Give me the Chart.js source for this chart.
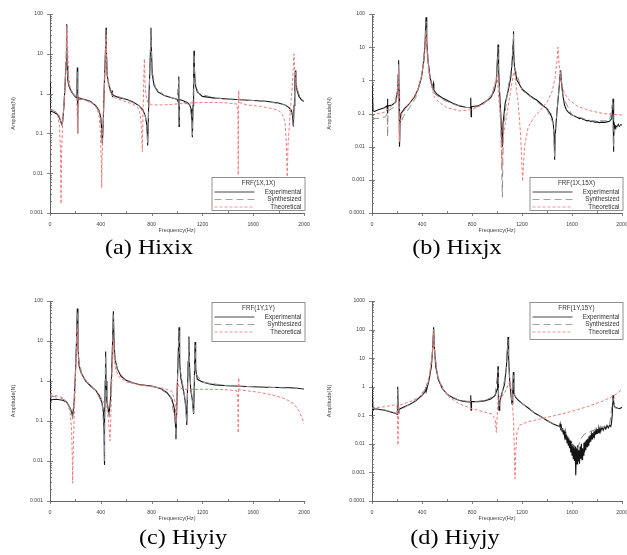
<!DOCTYPE html>
<html><head><meta charset="utf-8">
<script src="https://cdn.jsdelivr.net/npm/chart.js@4.4.0/dist/chart.umd.min.js"></script>
<style>
html,body{margin:0;padding:0;background:#fff;}
body{width:627px;height:555px;position:relative;overflow:hidden;}
canvas{position:absolute;}
.cap{position:absolute;font-family:"Liberation Serif","Times New Roman",serif;font-size:22px;color:#000;transform:translate(-50%,-50%) scaleX(1.1);white-space:nowrap;}
</style></head><body>
<canvas id="ca" width="314" height="240" style="left:0;top:0"></canvas>
<canvas id="cb" width="313" height="240" style="left:314px;top:0"></canvas>
<canvas id="cc" width="314" height="245" style="left:0;top:280px"></canvas>
<canvas id="cd" width="313" height="245" style="left:314px;top:280px"></canvas>
<div class="cap" style="left:149px;top:247px">(a) Hixix</div>
<div class="cap" style="left:457px;top:247px">(b) Hixjx</div>
<div class="cap" style="left:183px;top:537px">(c) Hiyiy</div>
<div class="cap" style="left:455px;top:537px">(d) Hiyjy</div>
<script>
// ---------- tick labels ----------
const xTickLabels = [0, 400, 800, 1200, 1600, 2000];
const yLabelsA = ['0.001','0.01','0.1','1','10','100'];
const yLabelsB = ['0.0001','0.001','0.01','0.1','1','10','100'];
const yLabelsC = ['0.001','0.01','0.1','1','10','100'];
const yLabelsD = ['0.0001','0.001','0.01','0.1','1','10','100','1000'];
const legendTitles = ['FRF(1X,1X)','FRF(1X,15X)','FRF(1Y,1Y)','FRF(1Y,15Y)'];
const seriesNames = ['Experimental','Synthesized','Theoretical'];

// ---------- (a) Hixix : [frequency Hz, amplitude] ----------
const expA = [[0,2.0],[1,0.3],[3,1.5],[5,0.35],[10,0.36],[30,0.34],[60,0.3],[80,0.22],[92,0.17],[100,0.2],[110,0.5],[120,2],[126,6],[129,20],[131,55],[133,20],[136,5],[140,2.2],[150,1.5],[170,1.1],[190,0.9],[205,0.8],[212,1.2],[215,4.5],[217,0.1],[220,0.5],[225,0.8],[240,0.75],[280,0.7],[320,0.63],[360,0.5],[385,0.38],[400,0.25],[408,0.12],[412,0.055],[418,0.15],[430,3],[437,12],[441,45],[444,12],[450,3],[460,1.8],[480,1.1],[488,0.95],[490,1.2],[492,0.85],[500,0.9],[550,0.78],[600,0.72],[650,0.62],[700,0.5],[730,0.4],[750,0.28],[760,0.18],[766,0.1],[769,0.05],[775,0.3],[785,3],[792,15],[795,45],[798,15],[805,3],[820,1.6],[850,1.1],[900,0.9],[950,0.8],[1000,0.72],[1012,0.6],[1014,2.7],[1016,0.15],[1018,0.6],[1020,0.7],[1040,0.68],[1080,0.6],[1100,0.52],[1112,0.4],[1118,0.2],[1121,0.08],[1126,0.5],[1131,4],[1134,12],[1137,4],[1145,1.6],[1160,1.1],[1200,0.85],[1300,0.77],[1400,0.73],[1500,0.7],[1600,0.67],[1700,0.64],[1800,0.58],[1850,0.52],[1880,0.45],[1900,0.38],[1910,0.28],[1916,0.15],[1922,0.5],[1928,2],[1932,3.8],[1936,2],[1945,1.2],[1960,0.85],[1980,0.7],[2000,0.63]];
const synA = [[0,0.38],[40,0.36],[70,0.3],[85,0.2],[92,0.16],[105,0.3],[118,1.5],[126,6],[131,50],[136,5],[145,1.8],[180,1.0],[210,0.8],[215,3.5],[217,0.12],[222,0.7],[260,0.72],[340,0.58],[390,0.35],[405,0.15],[412,0.06],[420,0.2],[432,4],[441,40],[450,3],[470,1.4],[500,0.92],[600,0.72],[700,0.5],[750,0.28],[766,0.1],[769,0.055],[778,0.5],[790,10],[795,40],[802,4],[830,1.4],[900,0.9],[1000,0.72],[1014,2.2],[1016,0.17],[1020,0.68],[1100,0.52],[1118,0.2],[1121,0.09],[1128,1],[1134,10],[1142,2],[1170,1.0],[1300,0.77],[1500,0.7],[1700,0.64],[1850,0.52],[1905,0.32],[1916,0.16],[1925,0.8],[1932,3.5],[1940,1.5],[1970,0.78],[2000,0.63]];
const theoA = [[0,0.42],[30,0.38],[60,0.3],[75,0.15],[83,0.03],[87,0.0017],[91,0.03],[100,0.2],[115,1],[125,5],[131,20],[135,55],[139,15],[145,3],[160,1.3],[190,0.95],[210,0.8],[214,0.4],[217,0.1],[220,0.4],[226,0.8],[260,0.72],[320,0.6],[360,0.48],[385,0.3],[398,0.1],[404,0.02],[407,0.0043],[410,0.02],[420,0.3],[432,3],[438,12],[441,30],[444,10],[452,2.5],[470,1.2],[500,0.8],[550,0.7],[600,0.62],[650,0.55],[690,0.45],[712,0.3],[722,0.1],[727,0.035],[732,0.3],[737,1.5],[743,7.5],[748,2],[755,0.9],[770,0.6],[800,0.52],[900,0.52],[1000,0.55],[1100,0.58],[1200,0.6],[1300,0.6],[1400,0.58],[1470,0.55],[1480,0.3],[1482,0.009],[1484,0.3],[1486,1.2],[1490,0.6],[1550,0.52],[1650,0.48],[1750,0.42],[1800,0.38],[1830,0.3],[1850,0.2],[1862,0.05],[1868,0.007],[1874,0.05],[1890,0.3],[1905,1.2],[1915,4],[1921,10],[1928,3],[1940,1.5],[1960,1.1]];

// ---------- (b) Hixjx ----------
const expB = [[0,0.7],[2,0.12],[5,0.5],[8,0.12],[20,0.115],[50,0.13],[100,0.15],[120,0.17],[124,0.28],[126,0.1],[128,0.17],[160,0.18],[190,0.22],[205,0.5],[210,1.5],[213,4],[216,0.5],[219,0.05],[221,0.01],[224,0.05],[232,0.1],[260,0.14],[300,0.2],[340,0.32],[370,0.55],[395,1.2],[415,4],[425,15],[432,80],[438,15],[448,4],[465,1.2],[485,0.6],[492,0.8],[495,0.5],[520,0.38],[560,0.3],[600,0.25],[650,0.2],[700,0.17],[750,0.155],[785,0.15],[790,0.3],[793,0.08],[796,0.16],[850,0.17],[900,0.22],[950,0.3],[980,0.5],[995,1],[1003,4],[1008,12],[1013,2],[1020,0.5],[1030,0.1],[1038,0.02],[1043,0.01],[1048,0.05],[1065,0.2],[1090,0.5],[1110,1.2],[1122,4],[1128,12],[1131,30],[1134,8],[1140,2.5],[1160,1],[1200,0.55],[1230,0.44],[1250,0.38],[1270,0.33],[1300,0.28],[1320,0.25],[1340,0.215],[1350,0.2],[1370,0.17],[1385,0.155],[1400,0.14],[1415,0.115],[1425,0.1],[1430,0.09],[1440,0.075],[1450,0.05],[1458,0.02],[1461,0.004],[1465,0.02],[1480,0.12],[1495,0.5],[1505,1.5],[1509,2],[1514,1],[1525,0.4],[1540,0.18],[1555,0.13],[1570,0.11],[1585,0.1],[1600,0.09],[1615,0.085],[1630,0.08],[1645,0.076],[1660,0.07],[1675,0.072],[1690,0.066],[1705,0.064],[1720,0.06],[1735,0.062],[1750,0.057],[1765,0.059],[1780,0.055],[1800,0.056],[1820,0.053],[1840,0.055],[1860,0.054],[1880,0.056],[1900,0.058],[1918,0.07],[1925,0.15],[1928,0.28],[1931,0.007],[1935,0.03],[1940,0.045],[1945,0.035],[1950,0.042],[1960,0.04],[1970,0.047],[1980,0.041],[1990,0.046],[2000,0.045]];
const synB = [[0,0.07],[60,0.072],[110,0.08],[122,0.1],[125,0.02],[128,0.12],[170,0.15],[200,0.3],[210,1.5],[213,3],[217,0.3],[221,0.012],[226,0.04],[250,0.08],[300,0.15],[350,0.3],[400,1.5],[425,12],[432,60],[440,10],[460,1.5],[500,0.4],[550,0.28],[650,0.19],[750,0.15],[850,0.16],[950,0.28],[995,1],[1008,10],[1015,1.5],[1030,0.05],[1043,0.0003],[1050,0.03],[1080,0.35],[1120,3],[1131,25],[1140,2.5],[1200,0.5],[1300,0.26],[1400,0.13],[1450,0.05],[1461,0.005],[1470,0.04],[1500,0.8],[1509,1.8],[1530,0.3],[1600,0.09],[1750,0.06],[1900,0.06],[1928,0.25],[1931,0.01],[1945,0.04],[2000,0.045]];
const theoB = [[0,0.09],[100,0.11],[180,0.2],[205,0.6],[213,2],[217,0.2],[220,0.015],[224,0.05],[240,0.1],[300,0.2],[360,0.45],[400,1.5],[420,6],[432,25],[442,5],[460,1.2],[500,0.3],[550,0.2],[600,0.15],[700,0.12],[800,0.13],[900,0.2],[960,0.4],[990,1],[1000,1.5],[1010,0.5],[1030,0.05],[1040,0.002],[1050,0.02],[1080,0.1],[1110,0.5],[1130,1.5],[1139,1.8],[1150,0.8],[1170,0.2],[1190,0.02],[1205,0.0009],[1220,0.01],[1250,0.04],[1300,0.08],[1350,0.13],[1400,0.22],[1440,0.45],[1465,1.2],[1480,4],[1488,10],[1497,3],[1510,1],[1540,0.4],[1580,0.25],[1650,0.16],[1750,0.12],[1850,0.1],[1920,0.095],[2000,0.09]];

// ---------- (c) Hiyiy ----------
const expC = [[0,1.1],[2,0.2],[4,0.9],[6,0.3],[10,0.34],[50,0.35],[100,0.33],[130,0.3],[155,0.22],[170,0.17],[178,0.13],[190,0.3],[200,1.5],[208,8],[215,65],[220,8],[228,2.5],[245,1.6],[280,1.0],[320,0.75],[360,0.58],[390,0.42],[410,0.28],[420,0.18],[426,0.05],[428,0.008],[431,0.1],[435,1],[438,5.5],[441,1],[448,0.3],[458,0.2],[465,0.15],[475,0.3],[485,1.5],[492,8],[499,55],[505,8],[512,3.5],[530,2],[560,1.3],[600,1.05],[650,0.9],[700,0.82],[800,0.75],[870,0.65],[920,0.52],[960,0.35],[980,0.2],[988,0.08],[992,0.035],[998,0.2],[1005,1.5],[1012,8],[1016,22],[1021,3],[1030,1.2],[1045,0.7],[1060,0.4],[1072,0.2],[1077,0.08],[1082,0.5],[1088,3],[1094,13],[1099,2],[1108,0.6],[1120,0.35],[1127,0.2],[1131,0.15],[1136,0.8],[1142,9.5],[1147,2],[1160,1.1],[1200,0.95],[1250,0.85],[1300,0.8],[1400,0.76],[1500,0.74],[1600,0.72],[1700,0.7],[1800,0.69],[1900,0.68],[1950,0.66],[2000,0.63]];
const synC = [[0,0.42],[50,0.4],[100,0.36],[140,0.28],[165,0.18],[178,0.12],[192,0.4],[205,4],[215,55],[224,4],[250,1.5],[300,0.85],[360,0.58],[410,0.28],[425,0.06],[428,0.01],[432,0.3],[438,4.5],[444,0.5],[460,0.18],[466,0.14],[480,0.5],[492,7],[499,45],[507,5],[530,1.9],[600,1.0],[700,0.8],[850,0.7],[950,0.42],[985,0.1],[992,0.04],[1000,0.5],[1016,18],[1025,2],[1060,0.42],[1077,0.09],[1085,1],[1094,11],[1102,1.2],[1125,0.25],[1131,0.16],[1137,1],[1142,8],[1150,1.5],[1200,0.93],[1400,0.76],[1700,0.7],[2000,0.64]];
const theoC = [[0,0.45],[50,0.43],[100,0.38],[140,0.28],[160,0.15],[170,0.06],[176,0.01],[178,0.0028],[181,0.01],[190,0.12],[200,1.0],[208,5],[215,20],[222,5],[232,2],[250,1.4],[300,0.9],[350,0.65],[390,0.45],[420,0.3],[440,0.25],[455,0.15],[465,0.07],[472,0.032],[478,0.1],[485,0.6],[492,3],[499,11],[505,4],[515,2],[540,1.3],[600,0.95],[700,0.8],[800,0.72],[900,0.65],[960,0.55],[985,0.3],[992,0.1],[998,0.4],[1005,1],[1015,0.7],[1050,0.62],[1200,0.62],[1300,0.62],[1400,0.6],[1470,0.57],[1480,0.3],[1482,0.05],[1484,0.3],[1486,1.2],[1490,0.6],[1550,0.57],[1650,0.52],[1750,0.45],[1850,0.36],[1920,0.27],[1960,0.18],[1985,0.12],[2000,0.085]];

// ---------- (d) Hiyjy ----------
const expD = [[0,1.1],[2,0.08],[5,0.6],[8,0.15],[20,0.17],[60,0.16],[100,0.15],[150,0.13],[190,0.115],[200,0.11],[204,0.3],[207,1.0],[210,0.12],[215,0.16],[250,0.19],[300,0.24],[350,0.32],[400,0.5],[428,0.7],[431,1.0],[434,0.7],[455,1.6],[475,5],[485,20],[493,120],[500,20],[510,5],[530,1.8],[560,0.9],[600,0.55],[650,0.4],[700,0.33],[750,0.3],[788,0.29],[790,0.5],[793,0.15],[796,0.3],[850,0.3],[900,0.32],[950,0.37],[985,0.5],[1000,0.8],[1005,3],[1008,5.2],[1011,0.5],[1016,0.15],[1022,0.3],[1040,0.6],[1060,1.2],[1075,5],[1083,20],[1088,55],[1093,10],[1102,1.5],[1112,0.5],[1120,0.25],[1126,0.8],[1131,3.3],[1135,0.6],[1147,0.44],[1170,0.34],[1200,0.26],[1250,0.18],[1300,0.12],[1350,0.09],[1400,0.066],[1450,0.05],[1490,0.042],[1500,0.04],[1505,0.05],[1510,0.03],[1515,0.04],[1520,0.028],[1525,0.035],[1530,0.022],[1535,0.03],[1540,0.018],[1545,0.026],[1550,0.014],[1555,0.022],[1560,0.011],[1565,0.018],[1570,0.009],[1575,0.016],[1580,0.007],[1585,0.013],[1590,0.005],[1595,0.012],[1600,0.004],[1605,0.01],[1610,0.003],[1615,0.009],[1620,0.0025],[1625,0.008],[1630,0.0008],[1635,0.007],[1640,0.002],[1645,0.009],[1650,0.0025],[1655,0.006],[1660,0.002],[1665,0.008],[1670,0.003],[1675,0.01],[1680,0.0028],[1685,0.007],[1690,0.004],[1695,0.011],[1700,0.005],[1705,0.012],[1710,0.006],[1715,0.014],[1720,0.008],[1725,0.015],[1730,0.009],[1735,0.018],[1740,0.011],[1745,0.02],[1750,0.012],[1755,0.022],[1760,0.015],[1765,0.024],[1770,0.017],[1775,0.027],[1780,0.019],[1785,0.028],[1790,0.021],[1795,0.03],[1800,0.023],[1805,0.033],[1810,0.025],[1815,0.034],[1820,0.027],[1825,0.036],[1830,0.028],[1840,0.038],[1850,0.03],[1860,0.04],[1870,0.033],[1880,0.044],[1890,0.036],[1900,0.045],[1910,0.04],[1915,0.05],[1922,0.1],[1928,0.5],[1933,0.3],[1940,0.2],[1960,0.18],[1980,0.17],[2000,0.19]];
const synD = [[0,0.18],[100,0.155],[200,0.115],[207,0.8],[212,0.14],[300,0.24],[400,0.5],[455,1.6],[485,18],[493,100],[502,15],[530,1.8],[600,0.55],[700,0.33],[800,0.3],[900,0.32],[985,0.5],[1008,4],[1016,0.18],[1040,0.55],[1075,4],[1088,45],[1100,2],[1120,0.28],[1131,2.5],[1140,0.5],[1200,0.26],[1300,0.12],[1400,0.066],[1500,0.04],[1560,0.02],[1610,0.008],[1640,0.006],[1670,0.015],[1700,0.022],[1800,0.033],[1900,0.045],[1928,0.4],[1945,0.18],[2000,0.17]];
const theoD = [[0,0.18],[100,0.2],[180,0.23],[200,0.2],[205,0.05],[208,0.009],[211,0.05],[216,0.22],[260,0.26],[320,0.32],[380,0.45],[430,0.9],[460,2.5],[480,12],[493,80],[505,10],[525,2.5],[560,0.9],[620,0.42],[700,0.25],[800,0.17],[900,0.13],[960,0.11],[985,0.07],[995,0.025],[1002,0.1],[1010,0.5],[1030,0.4],[1060,0.6],[1090,1.2],[1107,1.6],[1120,0.5],[1133,0.05],[1140,0.003],[1144,0.0006],[1150,0.005],[1160,0.025],[1180,0.045],[1250,0.06],[1350,0.075],[1450,0.095],[1550,0.12],[1650,0.16],[1750,0.22],[1850,0.32],[1920,0.45],[1960,0.58],[2000,0.8]];

// ---------- styling ----------
const COL_EXP = '#141414', COL_SYN = '#8c8c8c', COL_THEO = '#f07a7a';
const DASH_SYN = [7, 4], DASH_THEO = [3, 2];
const FONT = '"Liberation Sans", Arial, sans-serif';

const frfPlugin = {
  id: 'frf',
  afterDraw(chart, args, o) {
    const {ctx, chartArea: a, scales: {x, y}} = chart;
    ctx.save();
    ctx.strokeStyle = '#666'; ctx.lineWidth = 0.8;
    y.ticks.forEach(t => {
      const py = Math.round(y.getPixelForValue(t.value)) + 0.5;
      const l = Math.log10(t.value);
      const major = Math.abs(l - Math.round(l)) < 1e-6;
      ctx.beginPath();
      if (major) { ctx.moveTo(a.left - 3, py); ctx.lineTo(a.left + 3, py); }
      else { ctx.moveTo(a.left, py); ctx.lineTo(a.left + 2, py); }
      ctx.stroke();
    });
    x.ticks.forEach(t => {
      const px = Math.round(x.getPixelForValue(t.value)) + 0.5;
      const major = t.value % 400 === 0;
      ctx.beginPath();
      if (major) { ctx.moveTo(px, a.bottom); ctx.lineTo(px, a.bottom + 3); }
      else { ctx.moveTo(px, a.bottom); ctx.lineTo(px, a.bottom - 2); }
      ctx.stroke();
    });
    // axis titles
    ctx.fillStyle = '#444';
    ctx.font = '5.6px ' + FONT;
    ctx.textAlign = 'center'; ctx.textBaseline = 'middle';
    ctx.fillText('Frequency(Hz)', (a.left + a.right) / 2, a.bottom + 17);
    ctx.save();
    ctx.translate(o.yTitleX, (a.top + a.bottom) / 2);
    ctx.rotate(-Math.PI / 2);
    ctx.fillText('Amplitude(N)', 0, 0);
    ctx.restore();
    // legend box
    const w = 94, h = o.legendH;
    const r = a.right + 1.5, l = r - w;
    const top = o.legendPos === 'bottom' ? a.bottom - 2 - h : a.top + 1;
    ctx.fillStyle = '#fff';
    ctx.fillRect(l, top, w, h);
    ctx.strokeStyle = '#777'; ctx.lineWidth = 0.8;
    ctx.strokeRect(l + 0.5, top + 0.5, w - 1, h - 1);
    ctx.font = '6.3px ' + FONT;
    ctx.fillStyle = '#333';
    ctx.textAlign = 'center';
    ctx.fillText(o.title, l + w / 2, top + 6);
    const rows = [[COL_EXP, []], [COL_SYN, DASH_SYN], [COL_THEO, DASH_THEO]];
    rows.forEach((rw, i) => {
      const yy = top + 15 + i * 7.5;
      ctx.strokeStyle = rw[0]; ctx.setLineDash(rw[1]); ctx.lineWidth = 0.8;
      ctx.beginPath(); ctx.moveTo(l + 3, yy); ctx.lineTo(l + 43, yy); ctx.stroke();
      ctx.setLineDash([]);
      ctx.fillStyle = '#333'; ctx.textAlign = 'right';
      ctx.fillText(seriesNames[i], r - 4, yy);
    });
    ctx.restore();
  }
};

function pts(arr) { return arr.map(p => ({x: p[0], y: p[1]})); }

function makeChart(id, c) {
  const el = document.getElementById(id);
  const W = el.width, H = el.height;
  return new Chart(el, {
    type: 'line',
    data: {
      datasets: [
        {label: seriesNames[2], data: pts(c.theo), borderColor: COL_THEO, borderDash: DASH_THEO, borderWidth: 1, pointRadius: 0, tension: 0, fill: false},
        {label: seriesNames[1], data: pts(c.syn), borderColor: COL_SYN, borderDash: DASH_SYN, borderWidth: 1, pointRadius: 0, tension: 0, fill: false},
        {label: seriesNames[0], data: pts(c.exp), borderColor: COL_EXP, borderWidth: 1.1, pointRadius: 0, tension: 0, fill: false}
      ]
    },
    options: {
      responsive: false, animation: false, devicePixelRatio: 1,
      layout: {padding: {left: 0, top: c.area.t, right: W - c.area.r, bottom: 0}},
      plugins: {
        legend: {display: false}, tooltip: {enabled: false},
        frf: {title: c.title, legendPos: c.legendPos, legendH: c.legendH, yTitleX: c.yTitleX}
      },
      scales: {
        x: {
          type: 'linear', min: 0, max: 2000,
          afterFit(s) { s.height = H - c.area.b; s.paddingLeft = 0; s.paddingRight = 0; },
          ticks: {stepSize: 200, autoSkip: false, maxRotation: 0, padding: 8, color: '#444',
                  font: {size: 5.2, family: FONT},
                  callback: v => xTickLabels.includes(v) ? String(v) : ''},
          grid: {display: false, drawTicks: false},
          border: {display: true, color: '#666', width: 1}
        },
        y: {
          type: 'logarithmic', min: c.ymin, max: c.ymax,
          afterFit(s) { s.width = c.area.l; s.paddingTop = 0; s.paddingBottom = 0; },
          ticks: {autoSkip: false, padding: 7, color: '#444', font: {size: 5.2, family: FONT},
                  callback: v => {
                    const m = c.ylabels.find(s => Math.abs(Math.log10(+s) - Math.log10(v)) < 1e-6);
                    return m || '';
                  }},
          grid: {display: false, drawTicks: false},
          border: {display: true, color: '#666', width: 1}
        }
      }
    },
    plugins: [frfPlugin]
  });
}

makeChart('ca', {exp: expA, syn: synA, theo: theoA, ymin: 0.001, ymax: 100, ylabels: yLabelsA,
  area: {l: 50, t: 14, r: 304, b: 213}, title: legendTitles[0], legendPos: 'bottom', legendH: 34, yTitleX: 13});
makeChart('cb', {exp: expB, syn: synB, theo: theoB, ymin: 0.0001, ymax: 100, ylabels: yLabelsB,
  area: {l: 58, t: 14, r: 308, b: 213}, title: legendTitles[1], legendPos: 'bottom', legendH: 34, yTitleX: 15});
makeChart('cc', {exp: expC, syn: synC, theo: theoC, ymin: 0.001, ymax: 100, ylabels: yLabelsC,
  area: {l: 50, t: 21, r: 304, b: 221}, title: legendTitles[2], legendPos: 'top', legendH: 40, yTitleX: 13});
makeChart('cd', {exp: expD, syn: synD, theo: theoD, ymin: 0.0001, ymax: 1000, ylabels: yLabelsD,
  area: {l: 58, t: 21, r: 308, b: 221}, title: legendTitles[3], legendPos: 'top', legendH: 38, yTitleX: 15});
</script>
</body></html>
